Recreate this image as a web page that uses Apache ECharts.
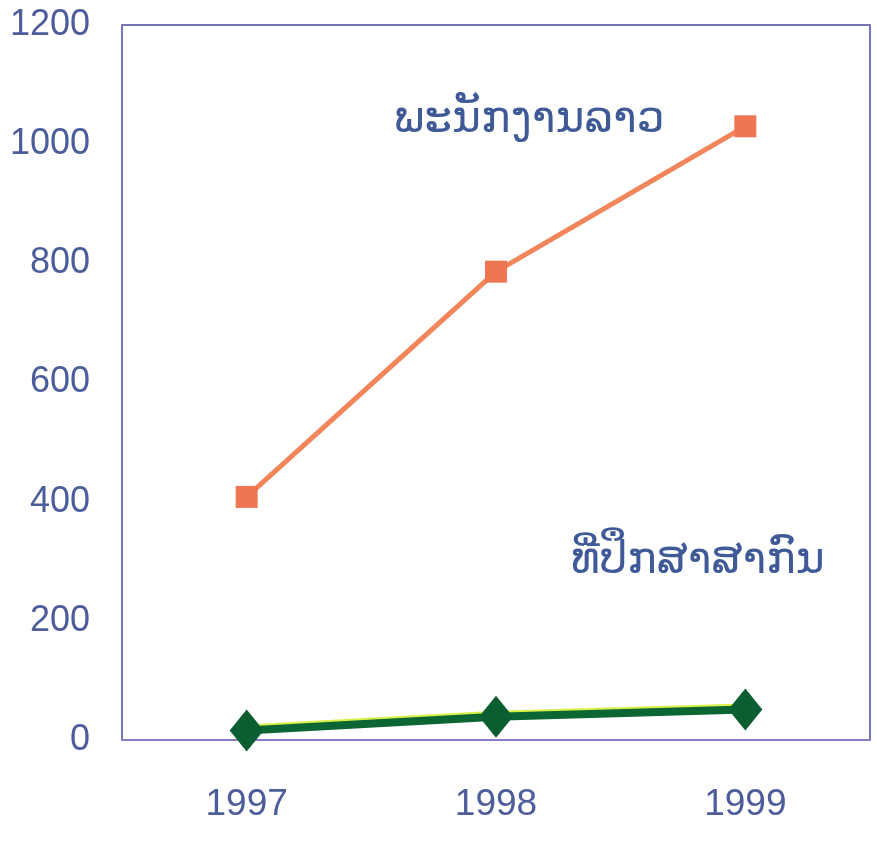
<!DOCTYPE html>
<html>
<head>
<meta charset="utf-8">
<script src="https://cdn.jsdelivr.net/npm/echarts@6/dist/echarts.min.js"></script>
<style>
html,body{margin:0;padding:0;background:#fff;}
#c{width:877px;height:841px;}
</style>
</head>
<body>
<div id="c"></div>
<script>
const years = ['1997', '1998', '1999'];
const laoStaff = [408, 786, 1030];
const intlAdvisors = [16, 39, 51];
const laoStaffName = 'ພະນັກງານລາວ';
const intlAdvisorsName = 'ທີ່ປຶກສາສາກົນ';
const yTicks = { min: 0, max: 1200, interval: 200 };

const chart = echarts.init(document.getElementById('c'));
const textColor = '#4d5d9a';
const axisColor = '#7676b6';
chart.setOption({
  animation: false,
  backgroundColor: '#ffffff',
  grid: { left: 122, right: 7, top: 25, bottom: 101, show: true, borderColor: axisColor, borderWidth: 2, backgroundColor: 'transparent' },
  xAxis: {
    type: 'category',
    data: years,
    boundaryGap: true,
    axisLine: { show: true, lineStyle: { color: '#8a7cc4', width: 2 } },
    axisTick: { show: false },
    axisLabel: { color: textColor, fontFamily: 'Liberation Sans', fontSize: 37, margin: 46 }
  },
  yAxis: {
    type: 'value',
    min: yTicks.min, max: yTicks.max, interval: yTicks.interval,
    axisLine: { show: true, lineStyle: { color: axisColor, width: 2 } },
    axisTick: { show: false },
    splitLine: { show: false },
    axisLabel: { color: textColor, fontFamily: 'Liberation Sans', fontSize: 36, margin: 32, formatter: v => String(v) }
  },
  series: [
    {
      name: laoStaffName,
      type: 'line',
      data: laoStaff,
      symbol: 'rect',
      symbolSize: 22,
      lineStyle: { color: '#f2855a', width: 5 },
      itemStyle: { color: '#ee7652' },
      z: 3
    },
    {
      name: intlAdvisorsName,
      type: 'line',
      data: intlAdvisors,
      symbol: 'diamond',
      symbolSize: [34, 42],
      lineStyle: { color: '#0b6634', width: 8, shadowColor: '#d8f048', shadowOffsetY: -2, shadowBlur: 0 },
      itemStyle: { color: '#0b5e32' },
      z: 4
    }
  ],
  graphic: [
    { type: 'text', left: 394, top: 99, style: { text: laoStaffName, fill: '#3f5a96', font: '44px "DejaVu Sans"' } },
    { type: 'text', left: 571, top: 540, style: { text: intlAdvisorsName, fill: '#3f5a96', font: '44px "DejaVu Sans"' } }
  ]
});
</script>
</body>
</html>
